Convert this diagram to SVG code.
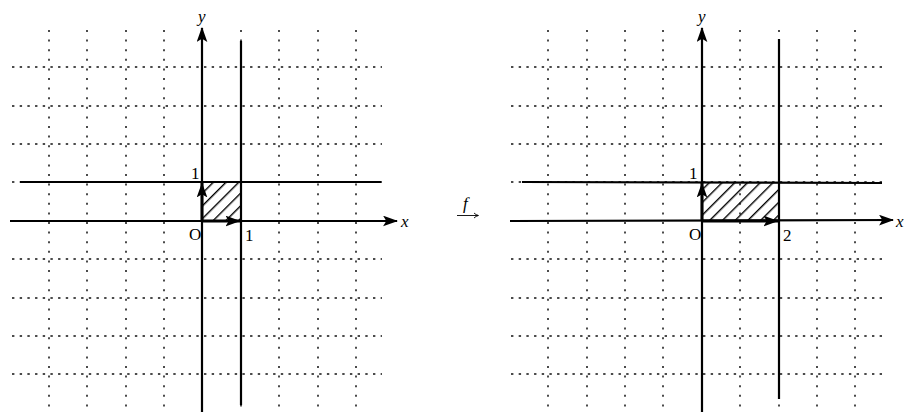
<svg xmlns="http://www.w3.org/2000/svg" width="904" height="412" viewBox="0 0 904 412">
<style>
.gh{stroke:#111;stroke-width:1.4;stroke-dasharray:2.4 5.28;fill:none}
.gv{stroke:#111;stroke-width:1.5;stroke-dasharray:2 7.6;fill:none}
.ax{stroke:#000;stroke-width:2.2;fill:none}
.ln{stroke:#000;stroke-width:2.2;fill:none}
.uv{stroke:#000;stroke-width:3;fill:none}
.t{font-family:"Liberation Serif","DejaVu Serif",serif;font-size:17px;fill:#000}
.ti{font-family:"Liberation Serif","DejaVu Serif",serif;font-size:17px;font-style:italic;fill:#000}
</style>
<defs>
<marker id="ah" viewBox="0 0 14 10" refX="13" refY="5" markerWidth="15" markerHeight="11" markerUnits="userSpaceOnUse" orient="auto">
<path d="M0,0 L14,5 L0,10 L3,5 Z" fill="#000"/>
</marker>
<marker id="ahs" viewBox="0 0 14 10" refX="13.5" refY="5" markerWidth="15" markerHeight="11" markerUnits="userSpaceOnUse" orient="auto">
<path d="M0,0 L14,5 L0,10 L3,5 Z" fill="#000"/>
</marker>
<pattern id="hatch" patternUnits="userSpaceOnUse" width="9" height="9" patternTransform="rotate(45)">
<line x1="0.7" y1="0" x2="0.7" y2="9" stroke="#000" stroke-width="1.4"/>
</pattern>
</defs>

<g id="left-grid">
<path class="gv" d="M49,30V410M87,30V410M126,30V410M164,30V410M241,30V410M279,30V410M318,30V410M356,30V410"/>
<path class="gh" d="M12,67H382M12,106H382M12,144H382M12,182H382M12,259H382M12,298H382M12,336H382M12,374H382"/>
</g>
<g id="left-region">
<rect x="202" y="182" width="39" height="39" fill="url(#hatch)"/>
</g>
<g id="right-grid">
<path class="gv" d="M548,30V410M587,30V410M625,30V410M663,30V410M740,30V410M779,30V410M817,30V410M855,30V410"/>
<path class="gh" d="M511,67H882M511,106H882M511,144H882M511,182H882M511,259H882M511,298H882M511,336H882M511,374H882"/>
</g>
<g id="right-region">
<rect x="702" y="182" width="77" height="39" fill="url(#hatch)"/>
</g>

<g id="connectors">
<line class="ax" x1="202" y1="412" x2="202" y2="28" marker-end="url(#ah)"/>
<line class="ax" x1="10" y1="221" x2="397" y2="221" marker-end="url(#ah)"/>
<line class="ln" x1="241" y1="41" x2="241" y2="405"/>
<line class="ln" x1="20" y1="182" x2="381" y2="182"/>
<line class="uv" x1="202" y1="221" x2="202" y2="183" marker-end="url(#ahs)"/>
<line class="uv" x1="202" y1="221" x2="240" y2="221" marker-end="url(#ahs)"/>

<line class="ax" x1="702" y1="412" x2="702" y2="28" marker-end="url(#ah)"/>
<line class="ax" x1="510" y1="221" x2="893" y2="220" marker-end="url(#ah)"/>
<line class="ln" x1="779" y1="39" x2="779" y2="399"/>
<line class="ln" x1="522" y1="182" x2="882" y2="183"/>
<line class="uv" x1="702" y1="221" x2="702" y2="183" marker-end="url(#ahs)"/>
<line class="uv" x1="702" y1="221" x2="778" y2="221" marker-end="url(#ahs)"/>

<line x1="457" y1="215.5" x2="478" y2="215.5" stroke="#000" stroke-width="0.9"/>
<path d="M474,213 Q476,215 478.5,215.5 Q476,216 474,218" stroke="#000" stroke-width="0.9" fill="none"/>
</g>

<g id="labels">
<text class="ti" x="198" y="22">y</text>
<text class="t" x="191" y="179">1</text>
<text class="t" x="189" y="240">O</text>
<text class="t" x="245" y="241">1</text>
<text class="ti" x="401" y="227">x</text>

<text class="ti" x="463" y="209" font-size="12">f</text>

<text class="ti" x="698" y="22">y</text>
<text class="t" x="689" y="179">1</text>
<text class="t" x="689" y="240">O</text>
<text class="t" x="783" y="241">2</text>
<text class="ti" x="896" y="227">x</text>
</g>
</svg>
